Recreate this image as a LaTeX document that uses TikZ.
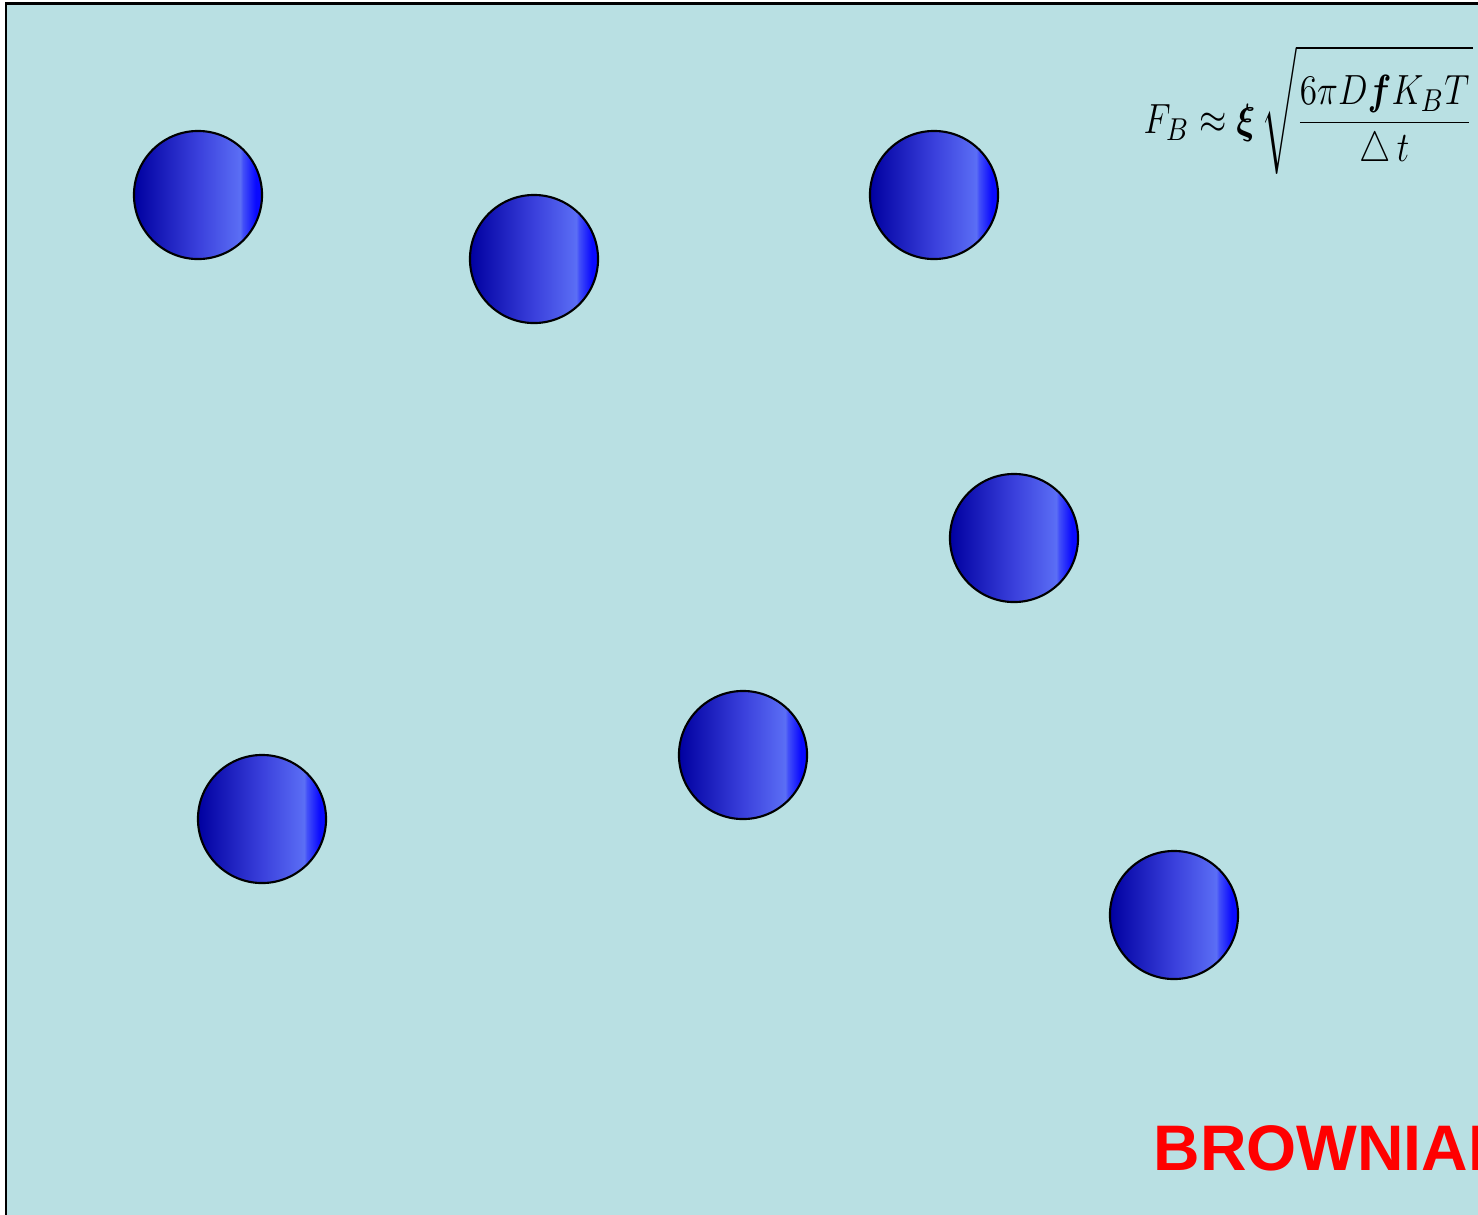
\documentclass[tikz,border=0pt]{standalone}
\usepackage{amsmath}
\usepackage{bm}
\usepackage{graphicx}
\usepackage{fontspec}
\newfontfamily\labelfont{Liberation Sans}
\definecolor{bgcol}{HTML}{B9E0E3}
\definecolor{b1}{HTML}{0000A0}
\definecolor{b2}{HTML}{3A40DC}
\definecolor{b3}{HTML}{5B6EF5}
\definecolor{b4}{HTML}{0A0AFF}
\definecolor{titlecol}{HTML}{FF0000}
\pgfdeclarehorizontalshading{ballshade}{100bp}{color(0bp)=(b1); color(25bp)=(b1);
  color(50bp)=(b2); color(66.5bp)=(b3); color(67.5bp)=(b3!70!b4); color(72.5bp)=(b4);
  color(100bp)=(b4)}

\begin{document}
\begin{tikzpicture}[
    x=0.01cm, y=-0.01cm,
    ball/.style={circle, draw=black, line width=0.6pt, shading=ballshade,
                 minimum size=1.28cm, inner sep=0pt},
    formula/.style={font=\fontsize{12.5}{14}\selectfont, inner sep=0pt},
    title/.style={font=\labelfont\fontsize{18.3}{20}\selectfont\bfseries,
                  text=titlecol, inner sep=0pt},
]
\useasboundingbox (0,0) rectangle (1478,1214);
\clip (0,0) rectangle (1478,1214);

% water box, cut by the page on the right and bottom
\draw[fill=bgcol, line width=0.85pt] (6,1240) -- (6,3) -- (1500,3) -- (1500,1240);

% particles
\foreach \name/\px/\py in {p1/198/195, p2/534/259, p3/934/195, p4/1014/538,
                           p5/262/819, p6/743/755, p7/1174/915}{
    \node[ball] (\name) at (\px,\py) {};
}

\node[formula, anchor=base west] (force) at (1143,133)
    {\scalebox{0.835}[1]{$\displaystyle F_B \approx \bm{\xi}\,
     \sqrt{\rule{0pt}{21pt}\frac{6\pi D\bm{f}K_BT}{\triangle\, t}}$}};

\node[title, anchor=base west] (label) at (1153,1170) {BROWNIAN};
\end{tikzpicture}
\end{document}
